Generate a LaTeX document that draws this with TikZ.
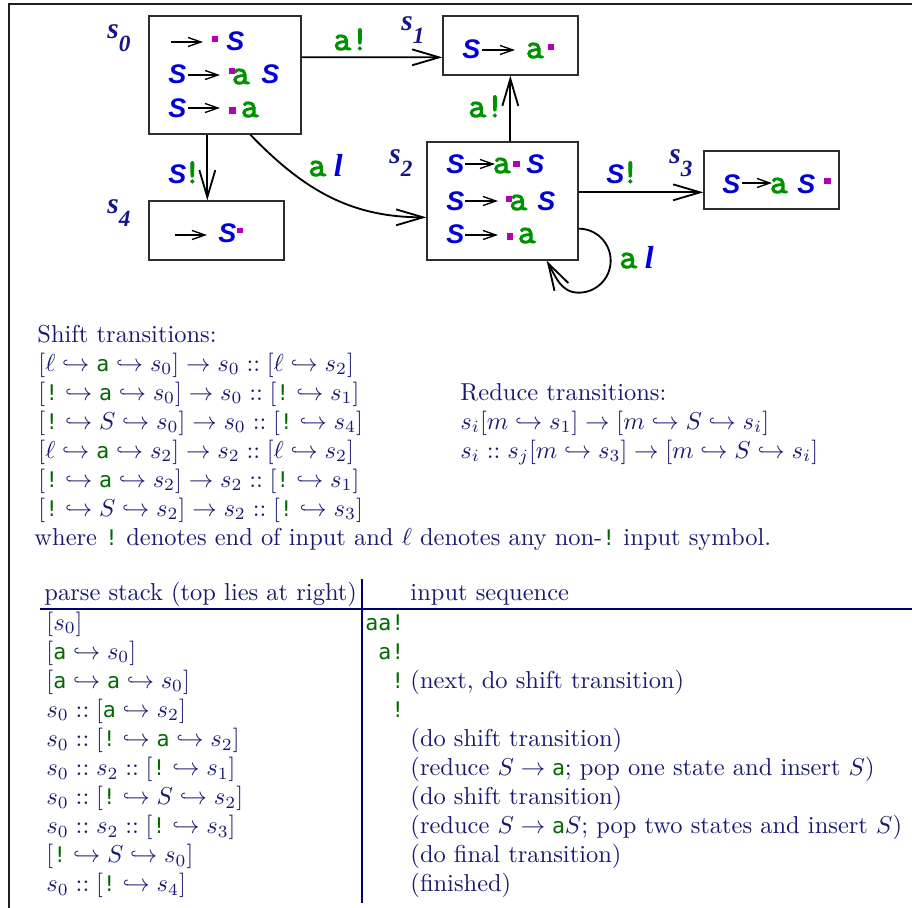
\documentclass[tikz,border=0pt]{standalone}
\usepackage{fontspec}
\setmonofont{DejaVu Sans Mono}[Scale=0.88]
\newfontfamily\hvfont{Liberation Sans}
\newfontfamily\crfont{Latin Modern Mono}[FakeBold=3]
\newfontfamily\tmfont{Liberation Serif}
\usetikzlibrary{arrows.meta,calc,fit}
\definecolor{navytext}{RGB}{25,25,112}
\definecolor{tgreen}{RGB}{0,105,0}
\definecolor{sblue}{RGB}{0,0,215}
\definecolor{fgreen}{RGB}{0,145,0}
\definecolor{dotm}{RGB}{180,0,180}
\definecolor{slab}{RGB}{20,20,140}
\definecolor{boxgray}{RGB}{45,45,45}
\definecolor{rulenavy}{RGB}{0,0,110}
\definecolor{framec}{RGB}{30,30,30}
\newcommand\GS{{\hvfont\bfseries\itshape\fontsize{11}{13}\selectfont\color{sblue}S}}
\newcommand\Ga{{\crfont\fontsize{14}{16}\selectfont\color{fgreen}a}}
\newcommand\Gx{{\crfont\fontsize{14}{16}\selectfont\color{fgreen}!}}
\newcommand\Gl{{\tmfont\bfseries\itshape\fontsize{13}{15}\selectfont\color{sblue}l}}
\newcommand\StLab[1]{{\tmfont\bfseries\itshape\color{slab}\fontsize{12}{14}\selectfont s\raisebox{-5.6pt}{\fontsize{9.5}{11}\selectfont #1}}}
\newcommand\tA{\textcolor{tgreen}{\texttt{a}}}
\newcommand\tX{\textcolor{tgreen}{\texttt{!}}}
\begin{document}
\begin{tikzpicture}[x=0.4087pt,y=-0.4087pt,
  statebox/.style={draw=boxgray,line width=0.55pt,inner sep=0pt},
  trans/.style={line width=0.75pt,-{Straight Barb[length=11pt,width=6.5pt]}},
  inarr/.style={line width=0.55pt,-{Straight Barb[length=5.3pt,width=3.7pt]}},
  glyph/.style={inner sep=0pt,anchor=base west},
  txt/.style={inner sep=0pt,anchor=base west,text=navytext},
  dot/.style={fill=dotm}]
\useasboundingbox (0,0) rectangle (912,908);
% frame
\draw[framec,line width=1pt] (912,4) -- (9,4) -- (9,908);
% state boxes
\node[statebox,fit={(149,16)(301,134)}] (s0) {};
\node[statebox,fit={(443,16)(578,75)}] (s1) {};
\node[statebox,fit={(427,142)(578,260)}] (s2) {};
\node[statebox,fit={(704,151)(839,209)}] (s3) {};
\node[statebox,fit={(149,201)(284,260)}] (s4) {};
% state labels
\node[glyph] (l0) at (107,38) {\StLab{0}};
\node[glyph] (l1) at (401,30) {\StLab{1}};
\node[glyph] (l2) at (389,163) {\StLab{2}};
\node[glyph] (l3) at (669,163) {\StLab{3}};
\node[glyph] (l4) at (107,213) {\StLab{4}};
% s0 contents
\draw[inarr] (171,42) -- (203,42);
\fill[dot] (212,36) rectangle (218,42);
\node[glyph] (s0a) at (226,50) {\GS};
\node[glyph] (s0b) at (168,83) {\GS};
\draw[inarr] (188,75) -- (220,75);
\fill[dot] (229,68) rectangle (235,74);
\node[glyph] (s0c) at (231.5,84) {\Ga};
\node[glyph] (s0d) at (261,83) {\GS};
\node[glyph] (s0e) at (168,117) {\GS};
\draw[inarr] (188,108) -- (220,108);
\fill[dot] (229,107) rectangle (236,114);
\node[glyph] (s0f) at (240.5,117) {\Ga};
% s4 contents
\draw[inarr] (175,235) -- (207,235);
\node[glyph] (s4a) at (218,242) {\GS};
\fill[dot] (237,228) rectangle (243,233);
% s1 contents
\node[glyph] (s1a) at (462,58) {\GS};
\draw[inarr] (482,50) -- (515,50);
\node[glyph] (s1b) at (525.5,58) {\Ga};
\fill[dot] (548,44) rectangle (554,50);
% s2 contents
\node[glyph] (s2a) at (446,173) {\GS};
\draw[inarr] (465,164) -- (495,164);
\node[glyph] (s2b) at (492.5,173) {\Ga};
\fill[dot] (513,161) rectangle (520,167);
\node[glyph] (s2c) at (526,173) {\GS};
\node[glyph] (s2d) at (446,210) {\GS};
\draw[inarr] (465,201) -- (498,201);
\fill[dot] (506,196) rectangle (512,202);
\node[glyph] (s2e) at (509,210) {\Ga};
\node[glyph] (s2f) at (537,210) {\GS};
\node[glyph] (s2g) at (446,243) {\GS};
\draw[inarr] (465,235) -- (498,235);
\fill[dot] (507,233) rectangle (513,240);
\node[glyph] (s2h) at (517.5,243) {\Ga};
% s3 contents
\node[glyph] (s3a) at (722,193) {\GS};
\draw[inarr] (742,183) -- (772,183);
\node[glyph] (s3b) at (769.5,193) {\Ga};
\node[glyph] (s3c) at (797,193) {\GS};
\fill[dot] (824,178) rectangle (831,184);
% transitions
\draw[trans] ($(s0.north east)+(0,42)$) -- ($(s1.north west)+(0,42)$);
\draw[trans] ($(s0.south west)+(59,0)$) -- ($(s4.north west)+(59,0)$);
\draw[trans] ($(s0.south west)+(102,0)$) .. controls +(54,56) and +(-75,0) .. ($(s2.north west)+(0,76)$);
\draw[trans] ($(s2.north west)+(84,0)$) -- ($(s1.south west)+(68,0)$);
\draw[trans] ($(s2.north east)+(0,51)$) -- ($(s3.north west)+(0,42)$);
\draw[trans] ($(s2.south east)+(0,-32)$) .. controls +(17.7,0) and +(0,-17.7) .. ($(s2.south east)+(32,0)$)
  .. controls +(0,17.7) and +(17.7,0) .. ($(s2.south east)+(0,32)$)
  .. controls +(-17.7,0) and +(9,16) .. ($(s2.south east)+(-32,0)$);
% transition labels
\node[glyph] (t01) at (333,50) {\Ga\Gx};
\node[glyph] (t04) at (168,183) {\GS\hspace{-1.2pt}\Gx};
\node[glyph] (t02) at (308,176) {\Ga\hspace{3.2pt}\Gl};
\node[glyph] (t21) at (468,117) {\Ga\Gx};
\node[glyph] (t23) at (606,183) {\GS\hspace{-1.2pt}\Gx};
\node[glyph] (t22) at (619,268) {\Ga\hspace{3.2pt}\Gl};
% shift transitions
\node[txt] (sh0) at (37,342) {Shift transitions:};
\node[txt] (sh1) at (38,371) {$[\ell\hookrightarrow\tA\hookrightarrow s_0]\to s_0::[\ell\hookrightarrow s_2]$};
\node[txt] (sh2) at (38,400) {$[\tX\hookrightarrow\tA\hookrightarrow s_0]\to s_0::[\tX\hookrightarrow s_1]$};
\node[txt] (sh3) at (38,429) {$[\tX\hookrightarrow S\hookrightarrow s_0]\to s_0::[\tX\hookrightarrow s_4]$};
\node[txt] (sh4) at (38,458) {$[\ell\hookrightarrow\tA\hookrightarrow s_2]\to s_2::[\ell\hookrightarrow s_2]$};
\node[txt] (sh5) at (38,487) {$[\tX\hookrightarrow\tA\hookrightarrow s_2]\to s_2::[\tX\hookrightarrow s_1]$};
\node[txt] (sh6) at (38,516) {$[\tX\hookrightarrow S\hookrightarrow s_2]\to s_2::[\tX\hookrightarrow s_3]$};
\node[txt] (wh) at (34,545) {where \tX\ denotes end of input and $\ell$ denotes any non-\tX\ input symbol.};
% reduce transitions
\node[txt] (rd0) at (460,400) {Reduce transitions:};
\node[txt] (rd1) at (460,429) {$s_i[m\hookrightarrow s_1]\to[m\hookrightarrow S\hookrightarrow s_i]$};
\node[txt] (rd2) at (460,458) {$s_i::s_j[m\hookrightarrow s_3]\to[m\hookrightarrow S\hookrightarrow s_i]$};
% table
\draw[rulenavy,line width=0.65pt] (362,579) -- (362,903);
\draw[rulenavy,line width=0.65pt] (40,609) -- (912,609);
\node[txt] (th1) at (44,600) {parse stack (top lies at right)};
\node[txt] (th2) at (410,600) {input sequence};
\node[txt] (p1) at (46,630) {$[s_0]$};
\node[txt] (p2) at (46,659) {$[\tA\hookrightarrow s_0]$};
\node[txt] (p3) at (46,688) {$[\tA\hookrightarrow\tA\hookrightarrow s_0]$};
\node[txt] (p4) at (46,717) {$s_0::[\tA\hookrightarrow s_2]$};
\node[txt] (p5) at (46,746.5) {$s_0::[\tX\hookrightarrow\tA\hookrightarrow s_2]$};
\node[txt] (p6) at (46,775.5) {$s_0::s_2::[\tX\hookrightarrow s_1]$};
\node[txt] (p7) at (46,804.5) {$s_0::[\tX\hookrightarrow S\hookrightarrow s_2]$};
\node[txt] (p8) at (46,833.5) {$s_0::s_2::[\tX\hookrightarrow s_3]$};
\node[txt] (p9) at (46,862.5) {$[\tX\hookrightarrow S\hookrightarrow s_0]$};
\node[txt] (p10) at (46,891.5) {$s_0::[\tX\hookrightarrow s_4]$};
\node[txt] (i1) at (365,630) {\textcolor{tgreen}{\texttt{aa!}}};
\node[txt] (i2) at (378,659) {\textcolor{tgreen}{\texttt{a!}}};
\node[txt] (i3) at (391,688) {\tX};
\node[txt] (c3) at (410,688) {(next, do shift transition)};
\node[txt] (i4) at (391,717) {\tX};
\node[txt] (c5) at (410,746.5) {(do shift transition)};
\node[txt] (c6) at (410,775.5) {(reduce $S\to\tA$; pop one state and insert $S$)};
\node[txt] (c7) at (410,804.5) {(do shift transition)};
\node[txt] (c8) at (410,833.5) {(reduce $S\to\tA S$; pop two states and insert $S$)};
\node[txt] (c9) at (410,862.5) {(do final transition)};
\node[txt] (c10) at (410,891.5) {(finished)};
\end{tikzpicture}
\end{document}
